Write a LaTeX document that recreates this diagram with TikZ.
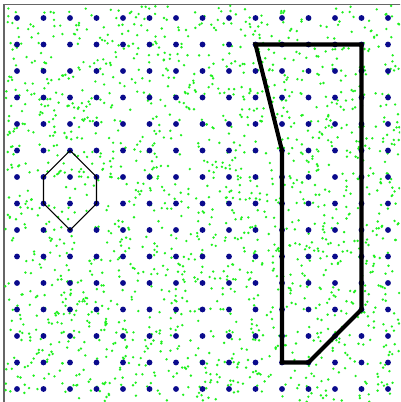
\documentclass[tikz,border=0pt]{standalone}
\usepackage{tikz}
\definecolor{sitegreen}{RGB}{30,240,30}
\definecolor{latblue}{RGB}{10,10,140}

\begin{document}
\begin{tikzpicture}[x=0.53cm,y=-0.53cm]
  % page, lattice site (0,0) sits 17px/18px in from the corner
  \clip (-0.642,-0.679) rectangle (14.453,14.491);
  \fill[white] (-0.642,-0.679) rectangle (14.453,14.491);
  \draw[gray!80!black,line width=1.1pt] (-0.49,-0.51) rectangle (15.5,15.5);
  % scattered green points
  \pgfmathsetmacro{\nb}{1700}
  \pgfmathsetseed{4711}
  \foreach \k in {1,...,\nb}
    \fill[sitegreen] ({-0.45+14.9*rnd},{-0.47+14.96*rnd}) circle (0.05);
  % square lattice of blue sites
  \foreach \i in {0,...,14}
    \foreach \j in {0,...,14}
      \fill[latblue] (\i,\j) circle (0.11);
  % small hexagon round two sites
  \draw[line width=0.6pt] (2,5) -- (1,6) -- (1,7) -- (2,8) -- (3,7) -- (3,6) -- cycle;
  % thick outline of the region
  \draw[line width=2.3pt] (9,1) -- (13,1) -- (13,11) -- (11,13) -- (10,13) -- (10,5) -- cycle;
\end{tikzpicture}
\end{document}
